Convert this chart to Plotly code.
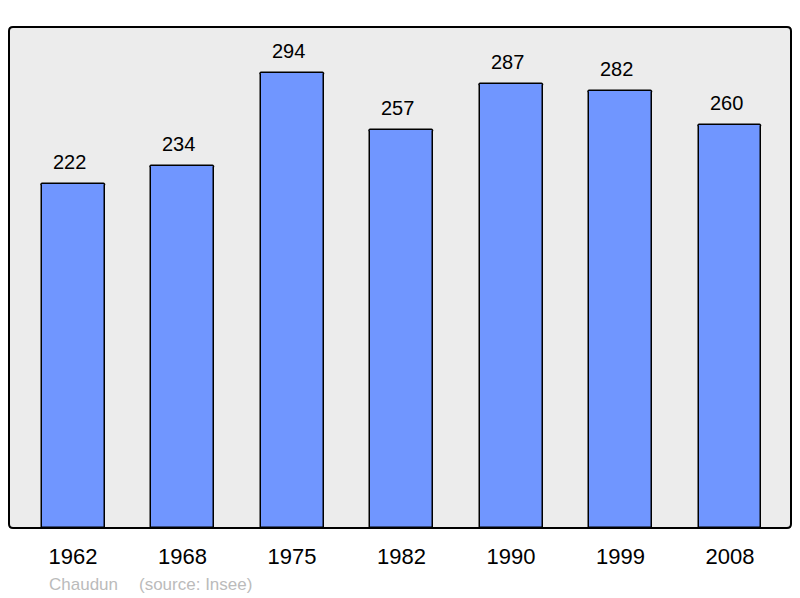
import plotly.graph_objects as go

years = ["1962", "1968", "1975", "1982", "1990", "1999", "2008"]
population = [222, 234, 294, 257, 287, 282, 260]
commune = "Chaudun"
source = "(source: Insee)"

W, H = 800, 598
# plot area in pixels: left, right, top, bottom
PL, PR, PT, PB = 9, 791, 27, 528
FONT = "Liberation Sans, Arial, sans-serif"

fig = go.Figure()
fig.add_trace(go.Bar(
    x=list(range(len(years))), y=population, width=0.575,
    marker=dict(color="#7096ff", line=dict(color="#000000", width=1.5), cornerradius=2),
    hoverinfo="skip", showlegend=False,
))

# value labels above each bar (sit a little left of the bar centre)
for i, v in enumerate(population):
    fig.add_annotation(
        x=i, y=v, text=str(v), showarrow=False, yanchor="bottom", yshift=9, xshift=-4,
        font=dict(family=FONT, size=20, color="#000000"),
    )

# source line under the axis
px_to_paper_x = lambda px: (px - PL) / (PR - PL)
px_to_paper_y = lambda py: (PB - py) / (PB - PT)
fig.add_annotation(
    x=px_to_paper_x(47), y=px_to_paper_y(596), xref="paper", yref="paper",
    text=commune, showarrow=False, xanchor="left", yanchor="bottom",
    font=dict(family=FONT, size=17, color="#bbbbbb"),
)
fig.add_annotation(
    x=px_to_paper_x(137), y=px_to_paper_y(596), xref="paper", yref="paper",
    text=source, showarrow=False, xanchor="left", yanchor="bottom",
    font=dict(family=FONT, size=17, color="#bbbbbb"),
)

# frame round the plot area, with slightly rounded corners
r = 4
rx, ry = r / (PR - PL), r / (PB - PT)
frame = (
    f"M {rx},0 L {1 - rx},0 Q 1,0 1,{ry} L 1,{1 - ry} Q 1,1 {1 - rx},1 "
    f"L {rx},1 Q 0,1 0,{1 - ry} L 0,{ry} Q 0,0 {rx},0 Z"
)
fig.add_shape(
    type="path", xref="paper", yref="paper", path=frame,
    line=dict(color="#000000", width=2), fillcolor="rgba(0,0,0,0)", layer="above",
)

fig.update_layout(
    width=W, height=H,
    margin=dict(l=PL, r=W - PR, t=PT, b=H - PB),
    paper_bgcolor="#ffffff", plot_bgcolor="#ececec",
    bargap=0,
    xaxis=dict(
        range=[-0.585, 6.557], tickmode="array", tickvals=list(range(len(years))),
        ticktext=years, showgrid=False, zeroline=False, showline=False, ticks="",
        tickfont=dict(family=FONT, size=22, color="#000000"),
        ticklabelstandoff=13, fixedrange=True,
    ),
    yaxis=dict(
        range=[0, 323.6], showgrid=False, zeroline=False, showline=False,
        showticklabels=False, ticks="", fixedrange=True,
    ),
)

# drop the browser's default body margin so the figure sits at (0, 0)
fig.write_html("out.html", config={"displayModeBar": False},
               post_script="document.body.style.margin='0';")
